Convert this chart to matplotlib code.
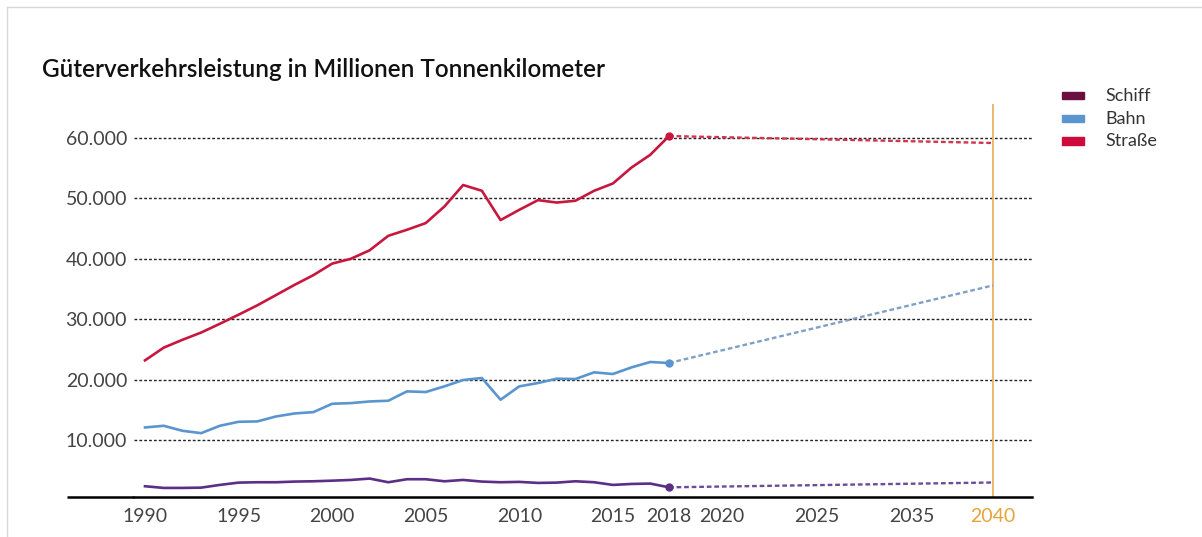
import numpy as np
import matplotlib.pyplot as plt
from matplotlib.lines import Line2D
from matplotlib.patches import Rectangle

plt.rcParams['font.family'] = ['Lato', 'DejaVu Sans']

# Güterverkehrsleistung (Mio. tkm), Ist-Werte 1990-2018 und Prognose 2040
years = list(range(1990, 2019))
strasse = [23200, 25300, 26600, 27800, 29250, 30750, 32300, 34000, 35700, 37300,
           39200, 40000, 41400, 43800, 44800, 45900, 48650, 52200, 51250, 46400,
           48100, 49700, 49300, 49600, 51250, 52450, 55100, 57200, 60300]
bahn = [12100, 12380, 11550, 11160, 12380, 13040, 13100, 13920, 14420, 14640,
        16020, 16130, 16400, 16520, 18070, 17960, 18900, 19950, 20280, 16690,
        18900, 19450, 20170, 20110, 21220, 20940, 22040, 22930, 22760]
schiff = [2380, 2100, 2100, 2150, 2600, 2980, 3040, 3040, 3150, 3200,
          3300, 3420, 3650, 3040, 3540, 3540, 3200, 3420, 3150, 3040,
          3100, 2930, 2980, 3200, 3040, 2600, 2760, 2820, 2200]
forecast_year = 2040
forecast = {'Schiff': 3000, 'Bahn': 35600, 'Straße': 59150}

x_tick_years = [1990, 1995, 2000, 2005, 2010, 2015, 2018, 2020, 2025, 2035, 2040]
y_ticks = [10000, 20000, 30000, 40000, 50000, 60000]
y_labels = ['10.000', '20.000', '30.000', '40.000', '50.000', '60.000']

legend_names = ['Schiff', 'Bahn', 'Straße']
legend_colors = ['#6b0f3f', '#5a95d0', '#cc0a3c']

W, H = 1202, 537
fig = plt.figure(figsize=(W / 100, H / 100), dpi=100)
ax = fig.add_axes([134 / W, 1 - 497 / H, (1032 - 134) / W, (497 - 104) / H])

# the time axis is stretched after 2018 (forecast part)
knot_years = [1990, 2018, 2020, 2025, 2035, 2040]
knot_px = [145, 669, 722, 817, 912, 993]


def xpos(y):
    return np.interp(y, knot_years, knot_px)


series = [
    ('Schiff', schiff, '#5b2f86', '#6a4c98'),
    ('Bahn', bahn, '#5a95d0', '#7fa0c6'),
    ('Straße', strasse, '#c8173f', '#d0344f'),
]
for name, vals, col, fcol in series:
    ax.plot(xpos(years), vals, color=col, lw=1.9, solid_joinstyle='round', zorder=3)
    ax.plot(xpos([2018, forecast_year]), [vals[-1], forecast[name]], color=fcol,
            lw=1.7, ls=(0, (2.0, 1.2)), zorder=3)
    ax.plot(xpos(2018), vals[-1], 'o', ms=5, color=col, zorder=4)

ax.set_xlim(134, 1032)
ax.set_ylim(600, 65600)

ax.set_yticks(y_ticks)
ax.set_yticklabels(y_labels)
ax.grid(axis='y', color='#222222', lw=1.0, ls=(0, (2.0, 1.5)))
ax.set_axisbelow(True)

ax.set_xticks(xpos(x_tick_years))
ax.set_xticklabels([str(y) for y in x_tick_years])
ax.tick_params(axis='both', length=0, labelsize=14, colors='#444444')
ax.tick_params(axis='y', pad=5)
ax.tick_params(axis='x', pad=8)
ax.get_xticklabels()[-1].set_color('#e8a33a')

for s in ['top', 'right', 'left']:
    ax.spines[s].set_visible(False)
ax.spines['bottom'].set_color('black')
ax.spines['bottom'].set_linewidth(1.8)
ax.plot([67, 134], [600, 600], color='black', lw=1.8, clip_on=False,
        solid_capstyle='butt')

ax.axvline(xpos(forecast_year), color='#e6b265', lw=1.3, zorder=2)

fig.text(42 / W, 1 - 77 / H, 'Güterverkehrsleistung in Millionen Tonnenkilometer',
         fontsize=17.5, color='#111111', va='baseline', weight='semibold')

for i, (name, col) in enumerate(zip(legend_names, legend_colors)):
    yc = 96 + 22.5 * i
    fig.add_artist(Rectangle((1062 / W, 1 - (yc + 3.5) / H), 22 / W, 7 / H,
                             transform=fig.transFigure, color=col))
    fig.text(1105 / W, 1 - yc / H, name, fontsize=13, color='#333333',
             va='center', ha='left')

# light frame round the chart
fig.add_artist(Line2D([7 / W, 7 / W], [0, 1 - 7 / H], color='#d8d8d8', lw=1))
fig.add_artist(Line2D([7 / W, 1], [1 - 7 / H, 1 - 7 / H], color='#d8d8d8', lw=1))

fig.savefig('out.png', dpi=100)
